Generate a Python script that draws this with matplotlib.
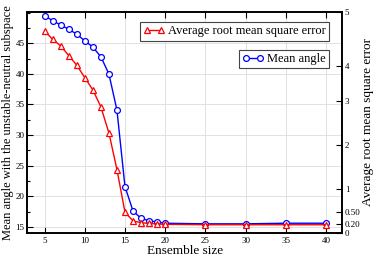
import numpy as np
import matplotlib
matplotlib.use("Agg")
import matplotlib.pyplot as plt
from matplotlib.lines import Line2D
from matplotlib.ticker import MultipleLocator, NullLocator

plt.rcParams['font.family'] = ['Liberation Serif', 'DejaVu Serif']

# ---- data ----
ensemble = [5, 6, 7, 8, 9, 10, 11, 12, 13, 14, 15, 16, 17, 18, 19, 20, 25, 30, 35, 40]
mean_angle = [49.5, 48.7, 48.0, 47.3, 46.5, 45.4, 44.4, 42.8, 40.0, 34.1,
              21.6, 17.6, 16.4, 16.0, 15.8, 15.6, 15.5, 15.5, 15.6, 15.6]
avg_rmse = [4.65, 4.49, 4.37, 4.19, 4.01, 3.66, 3.31, 2.86, 2.27, 1.44,
            0.49, 0.28, 0.24, 0.22, 0.21, 0.20, 0.19, 0.19, 0.19, 0.19]

x_ticks = [5, 10, 15, 20, 25, 30, 35, 40]
left_ticks = [15, 20, 25, 30, 35, 40, 45]
right_ticks = [0, 0.2, 0.5, 1, 2, 3, 4, 5]
right_labels = ['0', '0.20', '0.50', '1', '2', '3', '4', '5']
# positions of the right-axis ticks expressed on the left (angle) axis
right_pos = [14.05, 15.42, 17.48, 21.19, 28.43, 35.62, 41.34, 50.11]

rp = np.array(right_ticks, dtype=float)
lp = np.array(right_pos, dtype=float)


def _pw(x, xp, fp):
    x = np.asarray(x, dtype=float)
    y = np.interp(x, xp, fp)
    lo = x < xp[0]
    hi = x > xp[-1]
    s0 = (fp[1] - fp[0]) / (xp[1] - xp[0])
    s1 = (fp[-1] - fp[-2]) / (xp[-1] - xp[-2])
    y = np.where(lo, fp[0] + (x - xp[0]) * s0, y)
    y = np.where(hi, fp[-1] + (x - xp[-1]) * s1, y)
    return y


def fwd(v):
    return _pw(v, rp, lp)


def inv(v):
    return _pw(v, lp, rp)


fig = plt.figure(figsize=(3.76, 2.56), dpi=100)
ax = fig.add_axes([0.0726, 0.091, 0.837, 0.862])

ax.plot(ensemble, mean_angle, color='blue', lw=1.0, marker='o', ms=4.2,
        mfc='white', mec='blue', mew=0.9, zorder=3)
ax.set_xlim(2.85, 42.0)
ax.set_ylim(right_pos[0], right_pos[-1])
ax.set_xticks(x_ticks)
ax.set_yticks(left_ticks)
ax.yaxis.set_minor_locator(MultipleLocator(2.5))
ax.grid(True, color='#dcdcdc', lw=0.6)
ax.set_axisbelow(True)
ax.tick_params(axis='both', which='major', direction='in', length=4, width=0.8,
               labelsize=6.5, pad=2)
ax.tick_params(axis='x', top=True, pad=3)
ax.tick_params(axis='y', which='minor', direction='in', length=2.5, width=0.8)
ax.set_xlabel('Ensemble size', fontsize=9.5, labelpad=0)
ax.set_ylabel('Mean angle with the unstable-neutral subspace', fontsize=9.0)
ax.yaxis.set_label_coords(-0.042, 0.5)
for s in ax.spines.values():
    s.set_linewidth(1.2)

ax2 = ax.twinx()
ax2.set_yscale('function', functions=(fwd, inv))
ax2.set_ylim(0, 5)
ax2.plot(ensemble, avg_rmse, color='red', lw=1.0, marker='^', ms=4.5,
         mfc='white', mec='red', mew=0.9, zorder=4)
ax2.set_yticks(right_ticks)
ax2.set_yticklabels(right_labels)
ax2.yaxis.set_minor_locator(NullLocator())
ax2.tick_params(axis='y', direction='in', length=4, width=0.8, labelsize=6.5, pad=2)
ax2.set_ylabel('Average root mean square error', fontsize=9.5)
ax2.yaxis.set_label_coords(1.062, 0.5)
for s in ax2.spines.values():
    s.set_linewidth(1.2)

h_red = Line2D([], [], color='red', lw=1.0, marker='^', ms=4.5, mfc='white', mec='red', mew=0.9)
h_blue = Line2D([], [], color='blue', lw=1.0, marker='o', ms=4.2, mfc='white', mec='blue', mew=0.9)

leg_kw = dict(loc='upper right', fontsize=9, fancybox=False, framealpha=1,
              edgecolor='#444444', numpoints=2, handlelength=1.7, handletextpad=0.3,
              borderpad=0.25, borderaxespad=0, bbox_transform=fig.transFigure)
leg1 = ax2.legend([h_red], ['Average root mean square error'],
                  bbox_to_anchor=(0.875, 0.913), **leg_kw)
leg1.get_frame().set_linewidth(0.8)
ax2.add_artist(leg1)
leg2 = ax2.legend([h_blue], ['Mean angle'], bbox_to_anchor=(0.875, 0.805), **leg_kw)
leg2.get_frame().set_linewidth(0.8)

fig.savefig('out.png', dpi=100)
